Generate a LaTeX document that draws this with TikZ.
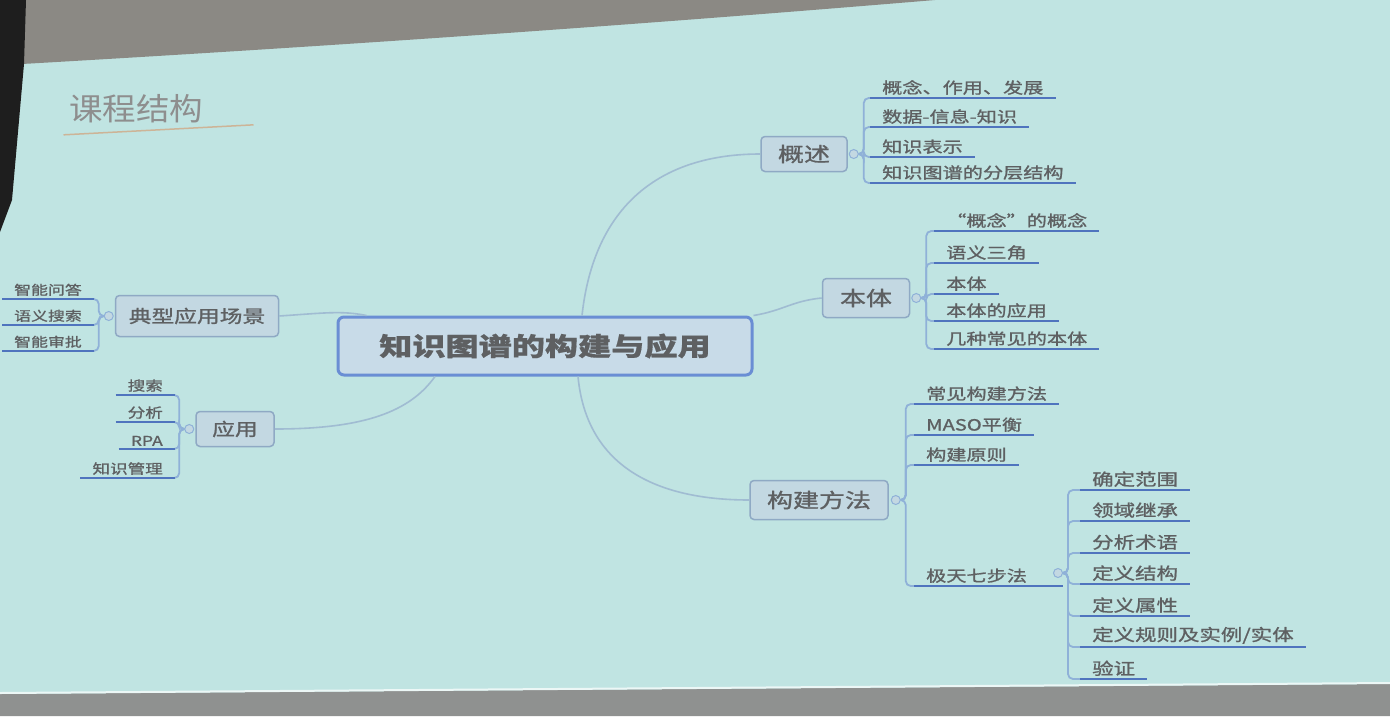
\documentclass[tikz,border=0pt]{standalone}
\usepackage{fontspec}
\setmainfont{Noto Sans CJK SC}[FakeStretch=1.3,FakeBold=1.2]
\newfontfamily\rootfont{Noto Sans CJK SC}[FakeStretch=1.3,FakeBold=0.6]
\newfontfamily\titlefont{Noto Sans CJK SC}[FakeStretch=1.08]
\usetikzlibrary{positioning}

\definecolor{slide}{HTML}{C0E4E2}
\definecolor{wall}{HTML}{8B8984}
\definecolor{frame}{HTML}{1E1E1E}
\definecolor{floor}{HTML}{8F9190}
\definecolor{ink}{HTML}{5E6062}
\definecolor{boxfill}{HTML}{C3D8E2}
\definecolor{boxline}{HTML}{8FA9C4}
\definecolor{rootline}{HTML}{6A8ED4}
\definecolor{rootfill}{HTML}{C8DBE8}
\definecolor{ulblue}{HTML}{4F74BE}
\definecolor{stemblue}{HTML}{8FB1D8}
\definecolor{linkblue}{HTML}{A0BCD2}
\definecolor{titlegray}{HTML}{8E8E8E}
\definecolor{titlerule}{HTML}{CDB497}

\newcommand{\setfs}[1]{\fontsize{#1}{#1}\selectfont}

\begin{document}
\begin{tikzpicture}[
  x=1pt,y=-1pt,
  root/.style={draw=rootline,line width=3pt,fill=rootfill,rounded corners=6pt,minimum width=414pt,minimum height=58pt,text=ink,font=\rootfont\setfs{25.5}\bfseries},
  topic/.style={draw=boxline,line width=1.5pt,fill=boxfill,rounded corners=4pt,text=ink,font=\setfs{20}},
  hub/.style={circle,draw=stemblue,fill=boxfill,line width=1pt,inner sep=0pt,minimum size=9pt},
  leaf/.style={anchor=south west,inner xsep=12pt,inner ysep=3pt,text=ink,font=\setfs{15.5}},
  leafl/.style={leaf,anchor=south east,font=\setfs{13}},
  ul/.style={draw=ulblue,line width=2.6pt},
  stem/.style={draw=stemblue,line width=1.8pt,rounded corners=5pt},
  link/.style={draw=linkblue,line width=1.6pt}
]
\useasboundingbox (0,0) rectangle (1390,716);

% slide and room
\fill[slide] (0,0) rectangle (1390,716);
\fill[wall] (0,0) -- (935,0) .. controls (600,28) and (300,48) .. (22,64) -- (0,64) -- cycle;
\fill[frame] (2,0) -- (26,0) -- (24,64) -- (12,200) -- (0,232) -- (0,0) -- cycle;
\fill[floor] (0,694) -- (1390,684) -- (1390,716) -- (0,716) -- cycle;
\draw[white!70!slide,line width=2pt] (0,693) -- (1390,683);

% title
\node[text=titlegray,font=\titlefont\setfs{31}] (tt) at (136,109) {课程结构};
\draw[titlerule,line width=1.5pt] ([xshift=-2pt,yshift=-8pt]tt.south west) -- ++(190,-10);

% main topics
\node[root] (root) at (545,346) {知识图谱的构建与应用};
\node[topic,minimum width=86pt,minimum height=35pt] (gs) at (804,154) {概述};
\node[topic,minimum width=87pt,minimum height=39pt] (bt) at (866,298) {本体};
\node[topic,minimum width=138pt,minimum height=39pt] (gj) at (819,500) {构建方法};
\node[topic,minimum width=163pt,minimum height=41pt,font=\setfs{17.5}] (dx) at (197,316) {典型应用场景};
\node[topic,minimum width=78pt,minimum height=35pt,font=\setfs{17.5}] (yy) at (235,429) {应用};

\node[hub,right=1pt of gs] (gsh) {};
\node[hub,right=1pt of bt] (bth) {};
\node[hub,right=2pt of gj] (gjh) {};
\node[hub,left=1pt of dx] (dxh) {};
\node[hub,left=1pt of yy] (yyh) {};

% 概述
\node[leaf] (o1) at (870,98) {概念、作用、发展};
\node[leaf] (o2) at (870,127) {数据-信息-知识};
\node[leaf] (o3) at (870,157) {知识表示};
\node[leaf] (o4) at (870,183) {知识图谱的分层结构};

% 本体
\node[leaf] (b1) at (934,231) {“概念”的概念};
\node[leaf] (b2) at (934,263) {语义三角};
\node[leaf] (b3) at (934,294) {本体};
\node[leaf] (b4) at (934,321) {本体的应用};
\node[leaf] (b5) at (934,349) {几种常见的本体};

% 构建方法
\node[leaf] (k1) at (914,404) {常见构建方法};
\node[leaf] (k2) at (914,435) {MASO平衡};
\node[leaf] (k3) at (914,465) {构建原则};
\node[leaf] (k4) at (914,586) {极天七步法};
\node[hub] (k4h) at (1058,573) {};

\node[leaf,font=\setfs{16.5}] (s1) at (1080,490) {确定范围};
\node[leaf,font=\setfs{16.5}] (s2) at (1080,521) {领域继承};
\node[leaf,font=\setfs{16.5}] (s3) at (1080,553) {分析术语};
\node[leaf,font=\setfs{16.5}] (s4) at (1080,584) {定义结构};
\node[leaf,font=\setfs{16.5}] (s5) at (1080,616) {定义属性};
\node[leaf,font=\setfs{16.5}] (s6) at (1080,647) {定义规则及实例/实体};
\node[leaf,font=\setfs{16.5}] (s7) at (1080,679) {验证};

% 典型应用场景
\node[leafl] (a1) at (94,299) {智能问答};
\node[leafl] (a2) at (94,325) {语义搜索};
\node[leafl] (a3) at (94,351) {智能审批};

% 应用
\node[leafl,font=\setfs{13.5}] (c1) at (175,395) {搜索};
\node[leafl,font=\setfs{13.5}] (c2) at (175,422) {分析};
\node[leafl,font=\setfs{13.5}] (c3) at (175,449) {RPA};
\node[leafl,font=\setfs{13.5}] (c4) at (175,478) {知识管理};

% links from the centre
\draw[link] ([xshift=37pt]root.north) .. controls +(12,-110) and +(-100,0) .. (gs.west);
\draw[link] (root.north east) .. controls +(30,-5) and +(-30,3) .. (bt.west);
\draw[link] ([xshift=33pt]root.south) .. controls +(8,85) and +(-100,0) .. (gj.west);
\draw[link] (dx.east) .. controls +(45,-3) and +(-25,-5) .. ([xshift=30pt]root.north west);
\draw[link] ([xshift=-110pt]root.south) .. controls +(-25,35) and +(90,0) .. (yy.east);

% stems
\foreach \n in {o1,o2,o3,o4} \draw[stem] (gsh.east) -- ++(5,0) |- (\n.south west);
\foreach \n in {b1,b2,b3,b4,b5} \draw[stem] (bth.east) -- ++(5,0) |- (\n.south west);
\foreach \n in {k1,k2,k3,k4} \draw[stem] (gjh.east) -- ++(5,0) |- (\n.south west);
\foreach \n in {s1,s2,s3,s4,s5,s6,s7} \draw[stem] (k4h.east) -- ++(5,0) |- (\n.south west);
\foreach \n in {a1,a2,a3} \draw[stem] (dxh.west) -- ++(-5,0) |- (\n.south east);
\foreach \n in {c1,c2,c3,c4} \draw[stem] (yyh.west) -- ++(-5,0) |- (\n.south east);

% underlines
\foreach \n in {o1,o2,o3,o4,b1,b2,b3,b4,b5,k1,k2,k3,s1,s2,s3,s4,s5,s6,s7,a1,a2,a3,c1,c2,c3,c4}
  \draw[ul] (\n.south west) -- (\n.south east);
\draw[ul] (k4.south west) -- (k4.south west -| k4h.east);
\end{tikzpicture}
\end{document}
